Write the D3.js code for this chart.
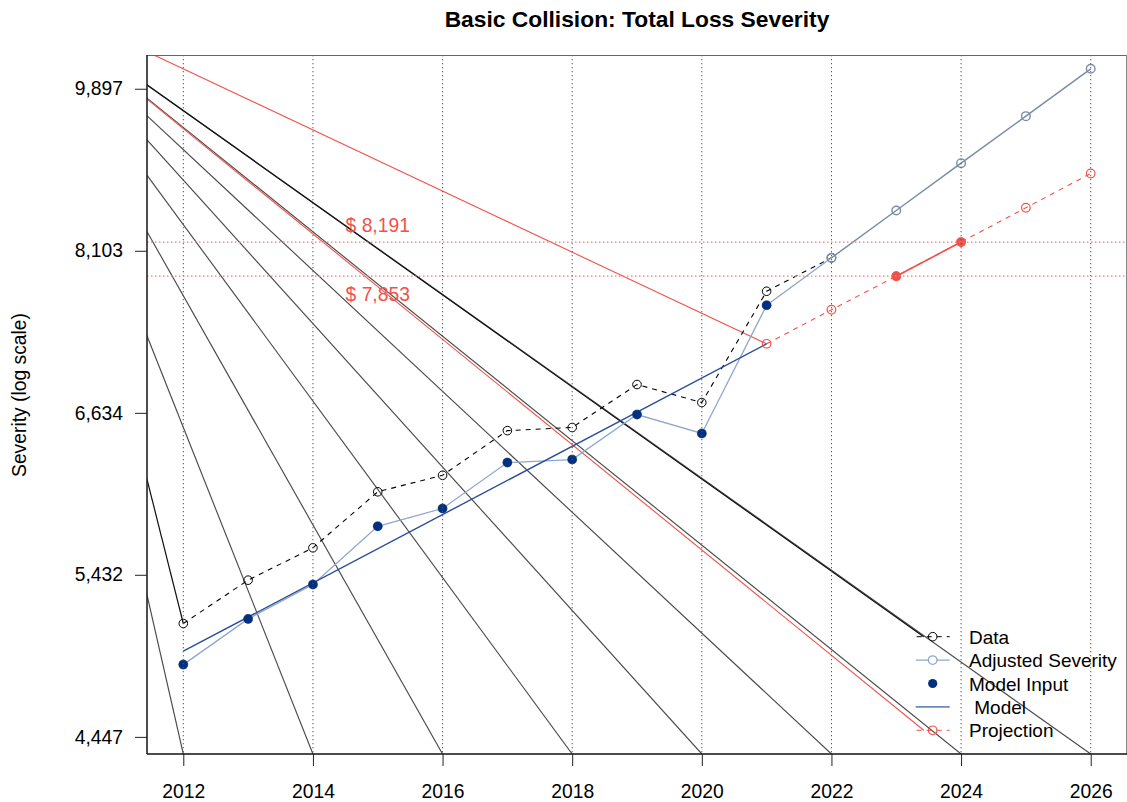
<!DOCTYPE html>
<html>
<head>
<meta charset="utf-8">
<script src="https://cdn.jsdelivr.net/npm/d3@7/dist/d3.min.js"></script>
<style>
  body { margin: 0; background: #fff; }
  text { font-family: "Liberation Sans", Arial, sans-serif; }
</style>
</head>
<body>
<script>
// Observed severity (black dashed)
const dataYears = [2012, 2013, 2014, 2015, 2016, 2017, 2018, 2019, 2020, 2021, 2022];
const dataValues = [5115, 5396, 5616, 6018, 6142, 6490, 6515, 6870, 6719, 7708, 8033];

// Model input points (navy dots)
const inputYears = [2012, 2013, 2014, 2015, 2016, 2017, 2018, 2019, 2020, 2021];
const inputValues = [4862, 5144, 5367, 5767, 5895, 6239, 6262, 6620, 6467, 7576];

// Adjusted severity (light blue line, open circles)
const adjustedYears = [2012, 2013, 2014, 2015, 2016, 2017, 2018, 2019, 2020, 2021, 2022, 2023, 2024, 2025, 2026];
const adjustedValues = [4862, 5144, 5367, 5767, 5895, 6239, 6262, 6620, 6467, 7576, 8033, 8516, 9028, 9568, 10144];

// Fitted model (straight on log scale)
const modelYears = [2012, 2021];
const modelValues = [4943, 7224];

// Projection (red dashed) and the two selected years
const projYears = [2021, 2022, 2023, 2024, 2025, 2026];
const projValues = [7224, 7534, 7853, 8191, 8545, 8914];
const pickedYears = [2023, 2024];
const pickedValues = [7853, 8191];

// Reference lines and their labels
const refValues = [8191, 7853];
const refLabels = ['$ 8,191', '$ 7,853'];

// Ticks
const xTicks = [2012, 2014, 2016, 2018, 2020, 2022, 2024, 2026];
const yTicks = [4447, 5432, 6634, 8103, 9897];

// Stray guide lines: one fan point, fanned out to the bottom of each tick year
const fanOrigin = [2009.3, 11230];
const fanYears = [2012, 2014, 2016, 2018, 2020, 2022, 2024, 2026];
const strayStart = [2011.0, 7030];

const legendLabels = ['Data', 'Adjusted Severity', 'Model Input', ' Model', 'Projection'];

document.addEventListener('DOMContentLoaded', function() {
  const width = 1127;
  const height = 802;
  const left = 147, right = 1127, top = 55, bottom = 754;

  const red = '#f0524b';
  const navy = '#00307f';
  const modelBlue = '#2a4f9c';
  const adjBlue = '#8fa7ca';
  const adjGrey = '#7b8ca6';

  const svg = d3.select('body').append('svg')
                .attr('width', width)
                .attr('height', height);

  const x = d3.scaleLinear().domain([2011.44, 2026.56]).range([left, right]);
  const y = d3.scaleLog().domain([4354, 10318]).range([bottom, top]);

  const line = d3.line().x(d => x(d[0])).y(d => y(d[1]));
  const zip = (a, b) => a.map((v, i) => [v, b[i]]);

  svg.append('clipPath').attr('id', 'plot')
     .append('rect')
     .attr('x', left).attr('y', top)
     .attr('width', right - left).attr('height', bottom - top);

  const plot = svg.append('g').attr('clip-path', 'url(#plot)');

  // Legend layout (needed by some stray lines)
  const legX = 932.7, legText = 969, legY0 = 636.7, legStep = 23.4;

  // Fan of stray grey lines
  plot.selectAll('.fan')
      .data(fanYears)
      .enter()
      .append('line')
      .attr('class', 'fan')
      .attr('x1', x(fanOrigin[0]))
      .attr('y1', y(fanOrigin[1]))
      .attr('x2', d => x(d))
      .attr('y2', bottom)
      .attr('stroke', '#4a4a4a')
      .attr('stroke-width', 1.15);

  // Stray lines to the projection start and the legend keys
  plot.append('line')
      .attr('x1', x(fanOrigin[0])).attr('y1', y(fanOrigin[1]))
      .attr('x2', x(projYears[0])).attr('y2', y(projValues[0]))
      .attr('stroke', red).attr('stroke-width', 1.1);
  plot.append('line')
      .attr('x1', x(fanOrigin[0])).attr('y1', y(fanOrigin[1]))
      .attr('x2', legX - 9).attr('y2', legY0)
      .attr('stroke', '#111').attr('stroke-width', 1.2);
  plot.append('line')
      .attr('x1', x(fanOrigin[0])).attr('y1', y(fanOrigin[1]))
      .attr('x2', legX - 9).attr('y2', legY0 + 4 * legStep)
      .attr('stroke', red).attr('stroke-width', 1.1);
  plot.append('path')
      .datum([strayStart, [dataYears[0], dataValues[0]]])
      .attr('d', line)
      .attr('fill', 'none')
      .attr('stroke', '#111').attr('stroke-width', 1.2);

  // Vertical dotted grid
  svg.selectAll('.grid')
     .data(xTicks)
     .enter()
     .append('line')
     .attr('class', 'grid')
     .attr('x1', d => x(d)).attr('x2', d => x(d))
     .attr('y1', top).attr('y2', bottom)
     .attr('stroke', '#555')
     .attr('stroke-dasharray', '1.3,2.7');

  // Red reference lines + labels
  svg.selectAll('.ref')
     .data(refValues)
     .enter()
     .append('line')
     .attr('class', 'ref')
     .attr('x1', left).attr('x2', right)
     .attr('y1', d => y(d)).attr('y2', d => y(d))
     .attr('stroke', '#f27a74')
     .attr('stroke-width', 1.2)
     .attr('stroke-dasharray', '1.5,2.5');

  svg.selectAll('.refLabel')
     .data(refValues)
     .enter()
     .append('text')
     .attr('class', 'refLabel')
     .attr('x', x(2015))
     .attr('y', (d, i) => y(d) + (i === 0 ? -10.5 : 25))
     .attr('text-anchor', 'middle')
     .attr('font-size', 19.3)
     .attr('fill', red)
     .text((d, i) => refLabels[i]);

  // Data (black dashed, open circles)
  const dataPts = zip(dataYears, dataValues);
  plot.append('path')
      .datum(dataPts)
      .attr('d', line)
      .attr('fill', 'none')
      .attr('stroke', '#000')
      .attr('stroke-width', 1.1)
      .attr('stroke-dasharray', '5,5');
  plot.selectAll('.dataPt')
      .data(dataPts)
      .enter()
      .append('circle')
      .attr('class', 'dataPt')
      .attr('cx', d => x(d[0])).attr('cy', d => y(d[1]))
      .attr('r', 4.3)
      .attr('fill', 'none')
      .attr('stroke', '#000');

  // Adjusted severity
  const adjPts = zip(adjustedYears, adjustedValues);
  plot.append('path')
      .datum(adjPts.slice(0, 11))
      .attr('d', line)
      .attr('fill', 'none')
      .attr('stroke', adjBlue)
      .attr('stroke-width', 1.3);
  plot.append('path')
      .datum(adjPts.slice(10))
      .attr('d', line)
      .attr('fill', 'none')
      .attr('stroke', adjGrey)
      .attr('stroke-width', 1.5);
  plot.selectAll('.adjPt')
      .data(adjPts)
      .enter()
      .append('circle')
      .attr('class', 'adjPt')
      .attr('cx', d => x(d[0])).attr('cy', d => y(d[1]))
      .attr('r', 4.3)
      .attr('fill', 'none')
      .attr('stroke', adjGrey)
      .attr('stroke-width', 1.4);

  // Model line
  plot.append('path')
      .datum(zip(modelYears, modelValues))
      .attr('d', line)
      .attr('fill', 'none')
      .attr('stroke', modelBlue)
      .attr('stroke-width', 1.4);

  // Model input dots
  plot.selectAll('.inputPt')
      .data(zip(inputYears, inputValues))
      .enter()
      .append('circle')
      .attr('class', 'inputPt')
      .attr('cx', d => x(d[0])).attr('cy', d => y(d[1]))
      .attr('r', 4.6)
      .attr('fill', navy);

  // Projection
  const projPts = zip(projYears, projValues);
  plot.append('path')
      .datum(projPts)
      .attr('d', line)
      .attr('fill', 'none')
      .attr('stroke', red)
      .attr('stroke-width', 1.1)
      .attr('stroke-dasharray', '5,5');
  plot.selectAll('.projPt')
      .data(projPts)
      .enter()
      .append('circle')
      .attr('class', 'projPt')
      .attr('cx', d => x(d[0])).attr('cy', d => y(d[1]))
      .attr('r', 4.3)
      .attr('fill', 'none')
      .attr('stroke', red)
      .attr('stroke-width', 1.2);

  const pickedPts = zip(pickedYears, pickedValues);
  plot.append('path')
      .datum(pickedPts)
      .attr('d', line)
      .attr('fill', 'none')
      .attr('stroke', red)
      .attr('stroke-width', 1.6);
  plot.selectAll('.pickPt')
      .data(pickedPts)
      .enter()
      .append('circle')
      .attr('class', 'pickPt')
      .attr('cx', d => x(d[0])).attr('cy', d => y(d[1]))
      .attr('r', 4.6)
      .attr('fill', red);

  // Frame
  svg.append('line').attr('x1', left).attr('x2', right).attr('y1', top + 0.5).attr('y2', top + 0.5)
     .attr('stroke', '#666');
  svg.append('line').attr('x1', right - 0.5).attr('x2', right - 0.5).attr('y1', top).attr('y2', bottom)
     .attr('stroke', '#888');

  // Axes
  const xAxis = svg.append('g')
                   .attr('transform', `translate(0,${bottom})`)
                   .call(d3.axisBottom(x).tickValues(xTicks).tickFormat(d3.format('d'))
                         .tickSize(12).tickPadding(18).tickSizeOuter(0));
  xAxis.select('.domain').attr('stroke', '#111').attr('stroke-width', 1.5)
       .attr('d', `M${left},0H${right}`);
  xAxis.selectAll('text').attr('font-size', 19.3).attr('fill', '#000')
       .attr('font-family', '"Liberation Sans", Arial, sans-serif');
  xAxis.selectAll('.tick line').attr('stroke', '#222');

  const yAxis = svg.append('g')
                   .attr('transform', `translate(${left},0)`)
                   .call(d3.axisLeft(y).tickValues(yTicks).tickFormat(d3.format(','))
                         .tickSize(12).tickPadding(12).tickSizeOuter(0));
  yAxis.select('.domain').attr('stroke', '#222').attr('stroke-width', 1.6)
       .attr('d', `M0,${top}V${bottom}`);
  yAxis.selectAll('text').attr('font-size', 19.3).attr('fill', '#000')
       .attr('font-family', '"Liberation Sans", Arial, sans-serif');
  yAxis.selectAll('.tick line').attr('stroke', '#222');

  // Title and axis label
  svg.append('text')
     .attr('x', (left + right) / 2)
     .attr('y', 27)
     .attr('text-anchor', 'middle')
     .attr('font-size', 22.8)
     .attr('font-weight', 'bold')
     .text('Basic Collision: Total Loss Severity');

  svg.append('text')
     .attr('transform', 'translate(26,395) rotate(-90)')
     .attr('text-anchor', 'middle')
     .attr('font-size', 19.3)
     .text('Severity (log scale)');

  // Legend
  const leg = svg.append('g');
  leg.selectAll('.legText')
     .data(legendLabels)
     .enter()
     .append('text')
     .attr('class', 'legText')
     .attr('x', legText)
     .attr('y', (d, i) => legY0 + i * legStep + 7)
     .attr('font-size', 19)
     .style('white-space', 'pre')
     .attr('xml:space', 'preserve')
     .text(d => d);

  const rowY = i => legY0 + i * legStep;
  // Data key
  leg.append('line').attr('x1', legX - 17).attr('x2', legX + 17)
     .attr('y1', rowY(0)).attr('y2', rowY(0))
     .attr('stroke', '#000').attr('stroke-dasharray', '5,5').attr('stroke-dashoffset', -1);
  leg.append('circle').attr('cx', legX).attr('cy', rowY(0)).attr('r', 4.3)
     .attr('fill', 'none').attr('stroke', '#000');
  // Adjusted key
  leg.append('line').attr('x1', legX - 17).attr('x2', legX + 17)
     .attr('y1', rowY(1)).attr('y2', rowY(1))
     .attr('stroke', adjBlue).attr('stroke-width', 1.3);
  leg.append('circle').attr('cx', legX).attr('cy', rowY(1)).attr('r', 4.3)
     .attr('fill', '#fff').attr('stroke', adjBlue).attr('stroke-width', 1.3);
  // Model input key
  leg.append('circle').attr('cx', legX).attr('cy', rowY(2)).attr('r', 4.6)
     .attr('fill', navy);
  // Model key
  leg.append('line').attr('x1', legX - 17).attr('x2', legX + 17)
     .attr('y1', rowY(3)).attr('y2', rowY(3))
     .attr('stroke', '#6d89bd').attr('stroke-width', 1.6);
  // Projection key
  leg.append('line').attr('x1', legX - 17).attr('x2', legX + 17)
     .attr('y1', rowY(4)).attr('y2', rowY(4))
     .attr('stroke', red).attr('stroke-dasharray', '5,5').attr('stroke-dashoffset', -1);
  leg.append('circle').attr('cx', legX).attr('cy', rowY(4)).attr('r', 4.3)
     .attr('fill', 'none').attr('stroke', red).attr('stroke-width', 1.2);
});
</script>
</body>
</html>
